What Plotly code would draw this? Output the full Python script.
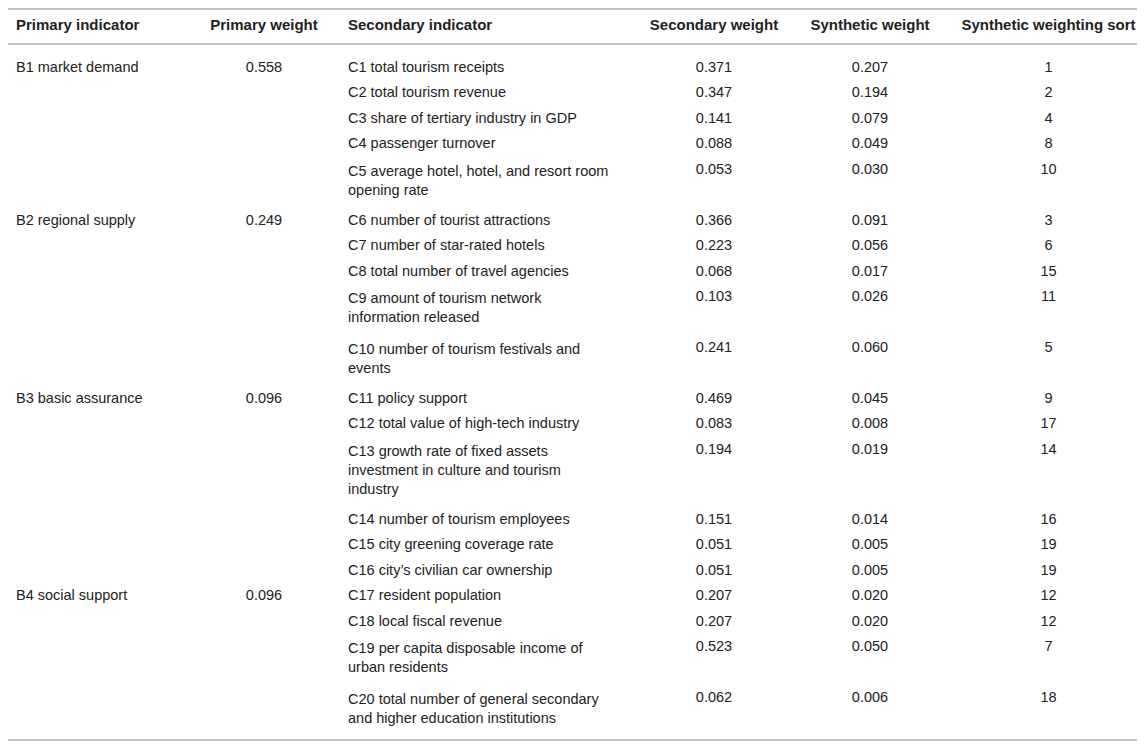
import plotly.graph_objects as go

# ===== table data =====
headers = ["Primary indicator", "Primary weight", "Secondary indicator",
           "Secondary weight", "Synthetic weight", "Synthetic weighting sort"]

primary_indicator = ["B1 market demand", "", "", "", "",
                     "B2 regional supply", "", "", "", "",
                     "B3 basic assurance", "", "", "", "", "",
                     "B4 social support", "", "", ""]
primary_weight = ["0.558", "", "", "", "",
                  "0.249", "", "", "", "",
                  "0.096", "", "", "", "", "",
                  "0.096", "", "", ""]
secondary_indicator = [
    "C1 total tourism receipts",
    "C2 total tourism revenue",
    "C3 share of tertiary industry in GDP",
    "C4 passenger turnover",
    "C5 average hotel, hotel, and resort room<br>opening rate",
    "C6 number of tourist attractions",
    "C7 number of star-rated hotels",
    "C8 total number of travel agencies",
    "C9 amount of tourism network<br>information released",
    "C10 number of tourism festivals and<br>events",
    "C11 policy support",
    "C12 total value of high-tech industry",
    "C13 growth rate of fixed assets<br>investment in culture and tourism<br>industry",
    "C14 number of tourism employees",
    "C15 city greening coverage rate",
    "C16 city’s civilian car ownership",
    "C17 resident population",
    "C18 local fiscal revenue",
    "C19 per capita disposable income of<br>urban residents",
    "C20 total number of general secondary<br>and higher education institutions",
]
secondary_weight = ["0.371", "0.347", "0.141", "0.088", "0.053",
                    "0.366", "0.223", "0.068", "0.103", "0.241",
                    "0.469", "0.083", "0.194", "0.151", "0.051", "0.051",
                    "0.207", "0.207", "0.523", "0.062"]
synthetic_weight = ["0.207", "0.194", "0.079", "0.049", "0.030",
                    "0.091", "0.056", "0.017", "0.026", "0.060",
                    "0.045", "0.008", "0.019", "0.014", "0.005", "0.005",
                    "0.020", "0.020", "0.050", "0.006"]
synthetic_sort = ["1", "2", "4", "8", "10",
                  "3", "6", "15", "11", "5",
                  "9", "17", "14", "16", "19", "19",
                  "12", "12", "7", "18"]

# page puts the plot 8px in from the top-left corner
W, H = 1137, 744
HEADER_H = 45
RULE = "#c4c4c4"
TEXT = "#222222"
FONT = "Liberation Sans, Arial, sans-serif"
CLEAR = "rgba(0,0,0,0)"

# non-breaking spaces keep the header on one line
header_text = ["<b>" + h.replace(" ", "\u00a0") + "</b>" for h in headers]

fig = go.Figure(go.Table(
    columnwidth=[180, 152, 300, 148, 164, 193],
    header=dict(
        values=header_text,
        align=["left", "center", "left", "center", "center", "center"],
        font=dict(family=FONT, size=15, color=TEXT),
        fill_color=CLEAR,
        line=dict(width=0, color=CLEAR),
        height=HEADER_H,
    ),
    cells=dict(
        values=[primary_indicator, primary_weight, secondary_indicator,
                secondary_weight, synthetic_weight, synthetic_sort],
        align=["left", "center", "left", "center", "center", "center"],
        font=dict(family=FONT, size=14.5, color=TEXT),
        fill_color=CLEAR,
        line=dict(width=0, color=CLEAR),
        height=25.5,
    ),
))

# horizontal rules: top, under header, bottom (pixel rows inside the figure)
for y in (1, 36, 732):
    fig.add_shape(type="line", xref="paper", yref="paper",
                  x0=0, x1=1, y0=1 - y / H, y1=1 - y / H,
                  line=dict(color=RULE, width=2))

fig.update_layout(
    width=W, height=H,
    margin=dict(l=0, r=0, t=0, b=0),
    paper_bgcolor="white",
    plot_bgcolor="white",
)

fig.write_html("out.html")
